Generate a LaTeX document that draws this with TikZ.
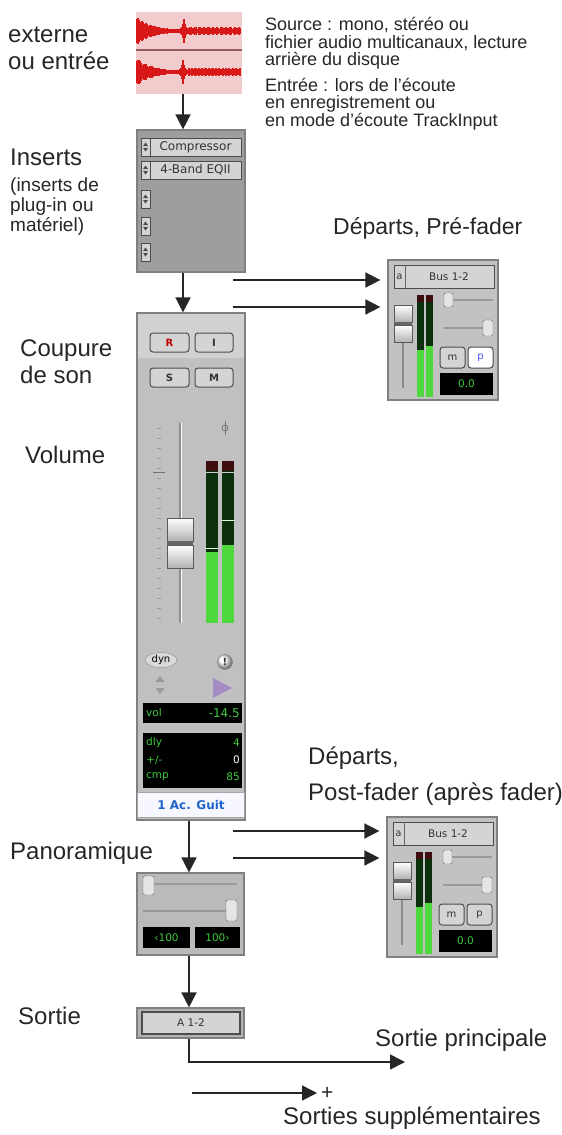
\documentclass[tikz,border=0pt]{standalone}
\usepackage{fontspec}
\setmainfont{Liberation Sans}
\newfontfamily\uifont{DejaVu Sans}
\usetikzlibrary{arrows.meta,positioning,shapes.geometric}

\definecolor{wavebg}{HTML}{F2CCCC}
\definecolor{wavered}{HTML}{D81818}
\definecolor{wavesep}{HTML}{9C5A5A}
\definecolor{panelgrey}{HTML}{9E9E9E}
\definecolor{stripgrey}{HTML}{C0C0C0}
\definecolor{btngrey}{HTML}{D4D4D4}
\definecolor{lcdgreen}{HTML}{3CCB3C}
\definecolor{meterdark}{HTML}{0C300C}
\definecolor{meterlit}{HTML}{4ED83E}
\definecolor{clipred}{HTML}{3E0E0E}
\definecolor{nameblue}{HTML}{1E64C8}
\definecolor{dynpurple}{HTML}{A68CC4}

% small up/down stepper of an insert slot
\newcommand{\stepper}[2]{%
  \fill[black!70] (#1-2.5,#2-1) -- (#1+2.5,#2-1) -- (#1,#2-4.5) -- cycle;
  \fill[black!70] (#1-2.5,#2+1) -- (#1+2.5,#2+1) -- (#1,#2+4.5) -- cycle;
}

% contents of a send window (box 110 x 140)
\newcommand{\sendpanel}[3]{%
  \draw[btn, rounded corners=0pt] (6,5) rectangle (106,28);
  \draw[black!60] (17,5) -- (17,28);
  \node[uitext] (#3-a) at (11.5,16.5) {a};
  \node[uitext, font=\uifont\fontsize{10.5}{10.5}\selectfont] (#3-bus) at (61,16.5) {Bus 1-2};
  % fader
  \draw[black!45, line width=1.8pt] (15,45) -- (15,128);
  \shade[top color=white, bottom color=black!30, draw=black!65] (6,45) rectangle (24,62);
  \shade[top color=white, bottom color=black!30, draw=black!65] (6,65) rectangle (24,82);
  \fill[black!60] (6,62) rectangle (24,65);
  % meters
  \fill[meterdark] (29,35) rectangle (36,137);
  \fill[meterdark] (38,35) rectangle (45,137);
  \fill[clipred] (29,35) rectangle (36,42);
  \fill[clipred] (38,35) rectangle (45,42);
  \fill[meterlit] (29,90) rectangle (36,137);
  \fill[meterlit] (38,86) rectangle (45,137);
  % level and pan sliders
  \draw[black!40, line width=1.5pt] (56,40) -- (105,40);
  \draw[black!40, line width=1.5pt] (56,68) -- (105,68);
  \draw[black!60, fill=black!10, rounded corners=1.5pt] (56,33) rectangle (65,47);
  \draw[black!60, fill=black!10, rounded corners=1.5pt] (95,60) rectangle (105,76);
  % mute / pan buttons and readout
  \draw[btn] (52,87) rectangle (77,108);
  \draw[btn, fill=#1] (80,87) rectangle (105,108);
  \node[uitext] (#3-m) at (64.5,97.5) {m};
  \node[uitext, text=#2] (#3-p) at (92.5,97.5) {p};
  \fill[black] (52,113) rectangle (105,135);
  \node[lcdtext] (#3-lcd) at (78.5,124) {0.0};
}

\begin{document}
\begin{tikzpicture}[x=1pt, y=-1pt,
  flow/.style={draw=black!85, line width=1.6pt, -{Triangle[width=15pt,length=15pt]}},
  panel/.style={draw=black!50, line width=1.2pt, fill=panelgrey, inner sep=0pt},
  btn/.style={draw=black!70, line width=1pt, fill=btngrey, rounded corners=3pt},
  uitext/.style={font=\uifont\fontsize{10}{10}\selectfont, text=black!80, inner sep=0pt},
  lcdtext/.style={font=\uifont\fontsize{10.5}{10.5}\selectfont, text=lcdgreen, inner sep=0pt},
  biglabel/.style={font=\fontsize{24}{27}\selectfont, text=black!85, anchor=west, inner sep=0pt, align=left},
  midlabel/.style={font=\fontsize{19}{20}\selectfont, text=black!85, anchor=west, inner sep=0pt, align=left},
  notetext/.style={font=\fontsize{18}{17.5}\selectfont, text=black!85, anchor=west, inner sep=0pt, align=left}]

\useasboundingbox (0,0) rectangle (562,1135);

% Panels
\node[fill=wavebg, minimum width=106pt, minimum height=82pt, inner sep=0pt] (wave) at (189,53) {};
\node[panel, minimum width=108pt, minimum height=142pt] (inserts) at (191,201) {};
\node[panel, fill=stripgrey, minimum width=108pt, minimum height=507pt] (strip) at (191,566.5) {};
\node[panel, fill=black!27, minimum width=107pt, minimum height=82pt] (pan) at (190.5,914) {};
\node[panel, fill=black!30, minimum width=107pt, minimum height=30pt] (outbox) at (190.5,1023) {};
\node[panel, fill=black!24, minimum width=110pt, minimum height=140pt] (presend) at (443,330) {};
\node[panel, fill=black!24, minimum width=110pt, minimum height=140pt] (postsend) at (442,887) {};

% Waveform, two channels
\draw[wavesep, line width=1.5pt] (136,50) -- (242,50);
\foreach \i in {1,...,104}{
  \pgfmathsetmacro\ampa{0.8+14*exp(-\i/15)*(0.55+0.45*abs(sin(\i*137)))+11*exp(-abs(\i-48)/1.5)+(\i>52)*(0.6+2.4*abs(sin(\i*41)))}
  \pgfmathsetmacro\ampb{0.8+14*exp(-\i/15)*(0.55+0.45*abs(sin(\i*151)))+11*exp(-abs(\i-47)/1.5)+(\i>52)*(0.6+2.4*abs(sin(\i*53)))}
  \draw[wavered, line width=1.1pt] (136+\i,31-\ampa) -- (136+\i,31+\ampa);
  \draw[wavered, line width=1.1pt] (136+\i,72-\ampb) -- (136+\i,72+\ampb);
}

% Insert slots
\draw[btn, rounded corners=0pt] (141,138) rectangle (241,156);
\draw[btn, rounded corners=0pt] (141,161) rectangle (241,179);
\draw[black!70] (150,138) -- (150,156);
\draw[black!70] (150,161) -- (150,179);
\node[uitext, font=\uifont\fontsize{12}{12}\selectfont] (ins1) at (195.5,147) {Compressor};
\node[uitext, font=\uifont\fontsize{12}{12}\selectfont] (ins2) at (195.5,170) {4-Band EQII};
\foreach \y in {199,226,252}{
  \draw[black!70, fill=btngrey] (141,\y-9) rectangle (150,\y+9);
  \stepper{145.5}{\y}
}
\stepper{145.5}{147}
\stepper{145.5}{170}

% Channel strip
\fill[black!18] (137.6,313.6) rectangle (244.4,358);
\draw[btn] (150,333) rectangle (189,352);
\draw[btn] (195,333) rectangle (233,352);
\draw[btn] (150,368) rectangle (189,387);
\draw[btn] (195,368) rectangle (233,387);
\node[uitext, font=\uifont\bfseries\fontsize{10}{10}\selectfont, text=red!75!black] (rec) at (169.5,342.5) {R};
\node[uitext, font=\uifont\bfseries\fontsize{10}{10}\selectfont] (inp) at (214,342.5) {I};
\node[uitext, font=\uifont\bfseries\fontsize{10}{10}\selectfont] (solo) at (169.5,377.5) {S};
\node[uitext, font=\uifont\bfseries\fontsize{10}{10}\selectfont] (mute) at (214,377.5) {M};
% phase symbol
\draw[black!55, line width=0.8pt] (225,421) -- (225,435);
\draw[black!55, line width=0.8pt] (225,428) circle (3);
% fader scale, track and cap
\foreach \t in {428,438,...,620}
  \draw[black!40, line width=0.8pt] (157,\t) -- (161,\t);
\draw[black!55, line width=1pt] (153,472) -- (165,472);
\draw[black!45, line width=2.2pt] (180,423) -- (180,623);
\draw[white, line width=0.6pt] (181.2,423) -- (181.2,623);
\shade[top color=white, bottom color=black!30, draw=black!65] (167,518) rectangle (193,541);
\shade[top color=white, bottom color=black!30, draw=black!65] (167,545) rectangle (193,568);
\fill[black!60] (167,541) rectangle (193,545);
% meters
\fill[meterdark] (206,461) rectangle (218,623);
\fill[meterdark] (222,461) rectangle (234,623);
\fill[clipred] (206,461) rectangle (218,471);
\fill[clipred] (222,461) rectangle (234,471);
\draw[black!20] (206,472) -- (218,472);
\draw[black!20] (222,472) -- (234,472);
\fill[meterlit] (206,552) rectangle (218,623);
\fill[meterlit] (222,545) rectangle (234,623);
\draw[white!85!green, line width=0.8pt] (206,548) -- (218,548);
\draw[white!85!green, line width=0.8pt] (222,520) -- (234,520);
% dyn, warning, automation
\node[draw=black!45, fill=black!15, ellipse, inner sep=0pt, minimum width=32pt, minimum height=15pt, font=\uifont\fontsize{10}{10}\selectfont] (dyn) at (161,660) {dyn};
\shade[ball color=white, draw=black!50] (225,662) circle (7.5);
\node[uitext, font=\uifont\bfseries\fontsize{10}{10}\selectfont] (warn) at (225,662) {!};
\fill[black!40] (155.5,682) -- (164.5,682) -- (160,676) -- cycle;
\fill[black!40] (155.5,688) -- (164.5,688) -- (160,694) -- cycle;
\fill[dynpurple] (213,678) -- (232,688) -- (213,698) -- cycle;
% readouts
\fill[black] (143,703) rectangle (242,723);
\node[lcdtext, anchor=west] (vol) at (146,713) {vol};
\node[lcdtext, anchor=east, font=\uifont\fontsize{12}{12}\selectfont] (volval) at (240,713) {-14.5};
\fill[black] (143,733) rectangle (242,788);
\node[lcdtext, anchor=west] (dly) at (146,743) {dly};
\node[lcdtext, anchor=west] (pm) at (146,760) {+/-};
\node[lcdtext, anchor=west] (cmp) at (146,777) {cmp};
\node[lcdtext, anchor=east] (dlyval) at (240,743) {4};
\node[lcdtext, anchor=east, text=white] (pmval) at (240,760) {0};
\node[lcdtext, anchor=east] (cmpval) at (240,777) {85};
% track name
\draw[fill=blue!3, draw=black!35] (137.6,792) rectangle (244.4,817);
\node[uitext, font=\uifont\bfseries\fontsize{12}{12}\selectfont, text=nameblue] (name) at (191,805) {1 Ac. Guit};

% Pan window
\draw[black!40, line width=1.5pt] (143,884) -- (237,884);
\draw[black!40, line width=1.5pt] (143,911) -- (237,911);
\draw[black!60, fill=black!10, rounded corners=1.5pt] (143,876) rectangle (154,895);
\draw[black!60, fill=black!10, rounded corners=1.5pt] (226,900) rectangle (237,921);
\fill[black] (143,927) rectangle (190,948);
\fill[black] (195,927) rectangle (240,948);
\node[lcdtext] (panl) at (166.5,937.5) {‹100};
\node[lcdtext] (panr) at (217.5,937.5) {100›};

% Output window
\draw[btn, rounded corners=0pt, line width=1.5pt] (142,1012) rectangle (240,1034);
\node[uitext, font=\uifont\fontsize{10.5}{10.5}\selectfont] (outname) at (191,1023) {A 1-2};

% Send windows
\begin{scope}[shift={(388,260)}]
  \sendpanel{white}{blue!70}{pre}
\end{scope}
\begin{scope}[shift={(387,817)}]
  \sendpanel{btngrey}{black!80}{post}
\end{scope}

% Signal flow
\coordinate (colA) at (183,0);
\coordinate (colB) at (189,0);
\draw[flow] (wave.south -| colA) -- (inserts.north -| colA);
\draw[flow] (inserts.south -| colA) -- (strip.north -| colA);
\draw[flow] (strip.south -| colB) -- (pan.north -| colB);
\draw[flow] (pan.south -| colB) -- (outbox.north -| colB);
\coordinate (mainend) at (405,1062);
\draw[flow] (outbox.south -| colB) |- (mainend);
\coordinate (extrastart) at (192,1093);
\coordinate (extraend) at (317,1093);
\draw[flow] (extrastart) -- (extraend);
\coordinate (preA) at (233,280);
\coordinate (preB) at (233,307);
\coordinate (postA) at (233,831);
\coordinate (postB) at (233,858);
\draw[flow, shorten >=7pt] (preA) -- (preA -| presend.west);
\draw[flow, shorten >=7pt] (preB) -- (preB -| presend.west);
\draw[flow, shorten >=7pt] (postA) -- (postA -| postsend.west);
\draw[flow, shorten >=7pt] (postB) -- (postB -| postsend.west);

% Labels
\node[biglabel] (extlbl) at (8,48.5) {externe\\ou entrée};
\node[notetext] (srclbl) at (265,43.5) {Source : mono, stéréo ou\\fichier audio multicanaux, lecture\\arrière du disque};
\node[notetext] (inlbl) at (265,104) {Entrée : lors de l'écoute\\en enregistrement ou\\en mode d'écoute TrackInput};
\node[biglabel] (inslbl) at (10,157) {Inserts};
\node[midlabel] (insnote) at (10,207) {(inserts de\\plug-in ou\\matériel)};
\node[biglabel, font=\fontsize{23}{27}\selectfont] (prelbl) at (333,228) {Départs, Pré-fader};
\node[biglabel] (mutelbl) at (20,361.5) {Coupure\\de son};
\node[biglabel] (vollbl) at (25,455) {Volume};
\node[biglabel, font=\fontsize{24}{36}\selectfont] (postlbl) at (308,776) {Départs,\\Post-fader (après fader)};
\node[biglabel] (panlbl) at (10,853) {Panoramique};
\node[biglabel] (outlbl) at (18,1016) {Sortie};
\node[biglabel] (mainlbl) at (375,1040) {Sortie principale};
\node[biglabel, anchor=base west, font=\fontsize{21}{21}\selectfont] (pluslbl) at (321,1099) {+};
\node[biglabel] (extralbl) at (283,1118) {Sorties supplémentaires};
\end{tikzpicture}
\end{document}
